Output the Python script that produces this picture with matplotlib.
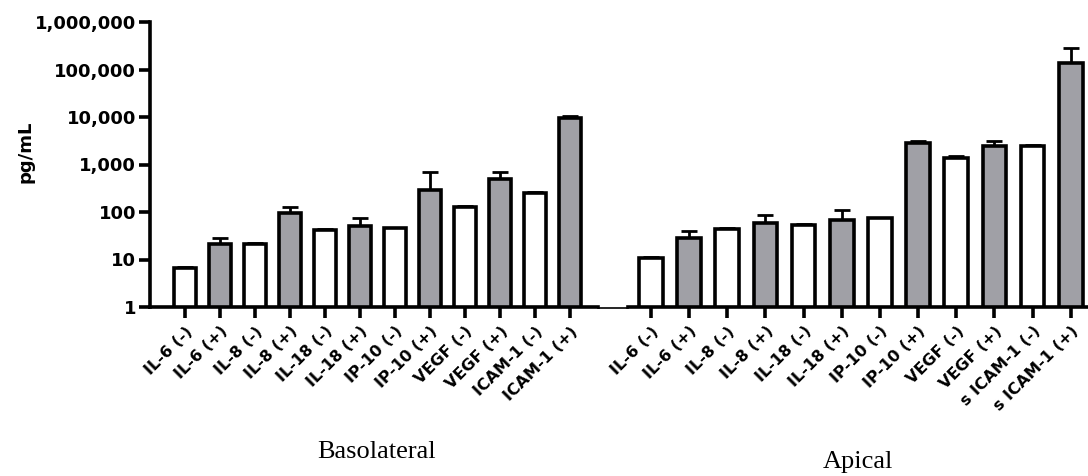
import matplotlib.pyplot as plt
from matplotlib.lines import Line2D
from matplotlib.ticker import FuncFormatter, NullLocator

baso_labels = ["IL-6 (-)", "IL-6 (+)", "IL-8 (-)", "IL-8 (+)", "IL-18 (-)", "IL-18 (+)",
               "IP-10 (-)", "IP-10 (+)", "VEGF (-)", "VEGF (+)", "ICAM-1 (-)", "ICAM-1 (+)"]
baso_values = [6.6, 21, 21, 95, 42, 50, 45, 290, 130, 500, 250, 9500]
baso_err = [0.5, 7, 1, 35, 2, 25, 2, 420, 5, 200, 12, 900]

apical_labels = ["IL-6 (-)", "IL-6 (+)", "IL-8 (-)", "IL-8 (+)", "IL-18 (-)", "IL-18 (+)",
                 "IP-10 (-)", "IP-10 (+)", "VEGF (-)", "VEGF (+)", "s ICAM-1 (-)", "s ICAM-1 (+)"]
apical_values = [11, 29, 44, 59, 53, 68, 74, 2900, 1400, 2400, 2400, 140000]
apical_err = [0.5, 10, 2, 26, 2, 41, 2, 150, 80, 650, 120, 140000]

treated = [False, True] * 6

GRAY = "#a0a0a6"
LW = 2.6

fig = plt.figure(figsize=(10.88, 4.76), dpi=100)
bottom = 1 - 307 / 476
height = (307 - 22) / 476
ax1 = fig.add_axes([150 / 1088, bottom, (598 - 150) / 1088, height])
ax2 = fig.add_axes([628 / 1088, bottom, (1088 - 628) / 1088, height], sharey=ax1)


def draw_group(ax, labels, values, errs, xlim):
    pos = list(range(len(values)))
    colors = [GRAY if t else "white" for t in treated]
    ax.errorbar(pos, values, yerr=[[0] * len(errs), errs], fmt="none",
                ecolor="black", elinewidth=2, capsize=6, capthick=2, zorder=1)
    ax.bar(pos, values, width=0.62, color=colors, edgecolor="black",
           linewidth=LW, zorder=2)
    ax.set_xticks(pos)
    ax.set_xticklabels(labels, rotation=45, ha="right", rotation_mode="anchor",
                       fontsize=11.5, fontweight="bold")
    ax.set_xlim(*xlim)
    for s in ("top", "right"):
        ax.spines[s].set_visible(False)
    ax.spines["bottom"].set_linewidth(LW)
    ax.tick_params(axis="x", length=8, width=LW, pad=4)


draw_group(ax1, baso_labels, baso_values, baso_err, (-1.0, 11.8))
draw_group(ax2, apical_labels, apical_values, apical_err, (-0.6, 11.45))

ax1.set_yscale("log")
ax1.set_ylim(1, 1e6)
ax1.set_yticks([1, 10, 100, 1e3, 1e4, 1e5, 1e6])
ax1.yaxis.set_minor_locator(NullLocator())
ax1.yaxis.set_major_formatter(FuncFormatter(lambda v, p: f"{int(round(v)):,}"))
for t in ax1.get_yticklabels():
    t.set_fontweight("bold")
    t.set_fontsize(13)
ax1.spines["left"].set_linewidth(LW)
ax1.tick_params(axis="y", length=8, width=LW, pad=2)

ax2.spines["left"].set_visible(False)
ax2.tick_params(axis="y", left=False, labelleft=False)

# thin joining segment of the broken x axis
fig.add_artist(Line2D([598 / 1088, 628 / 1088], [1 - 308 / 476, 1 - 308 / 476],
                      color="black", linewidth=1.2))

fig.text(25 / 1088, 1 - 152 / 476, "pg/mL", rotation=90, ha="center", va="center",
         fontsize=13, fontweight="bold")
fig.text(377 / 1088, 1 - 452 / 476, "Basolateral", ha="center", va="center",
         family="Liberation Serif", fontsize=19)
fig.text(858 / 1088, 1 - 462 / 476, "Apical", ha="center", va="center",
         family="Liberation Serif", fontsize=19)

fig.savefig("out.png", dpi=100)
